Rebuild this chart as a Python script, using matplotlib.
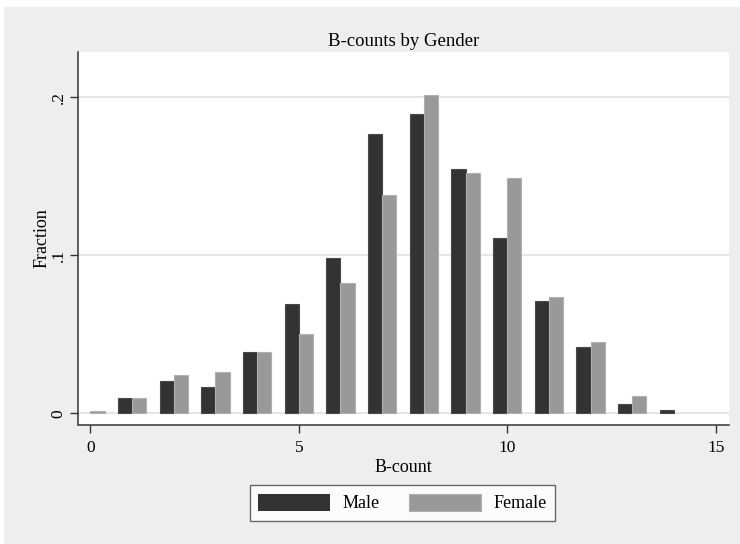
import numpy as np
import matplotlib.pyplot as plt
from matplotlib.patches import Rectangle

# fraction of students at each B-count, split by gender
b_count = np.arange(0, 15)
male = [0.0, 0.0096, 0.0206, 0.0170, 0.0387, 0.0693, 0.0982, 0.1767,
        0.1896, 0.1546, 0.1109, 0.0712, 0.0423, 0.0058, 0.0022]
female = [0.0016, 0.0096, 0.0244, 0.0261, 0.0387, 0.0503, 0.0824, 0.1383,
          0.2018, 0.1520, 0.1490, 0.0739, 0.0451, 0.0113, 0.0]

plt.rcParams["font.family"] = ["Liberation Serif", "DejaVu Serif"]

fig = plt.figure(figsize=(7.4, 5.44), dpi=100, facecolor="white")
# light grey graph region, with a thin white margin on top and left
fig.patches.append(Rectangle((4 / 740, 0), 1, 1 - 7 / 544,
                             transform=fig.transFigure,
                             facecolor="#eeeeee", edgecolor="none", zorder=-10))

ax = fig.add_axes([78.3 / 740, 1 - 424.5 / 544,
                   (729 - 78.3) / 740, (424.5 - 52) / 544])
ax.set_facecolor("white")


def edge_widths(values):
    # empty bins get no outline, so nothing shows at zero
    return [0.8 if v > 0 else 0 for v in values]


w = 0.34
ax.bar(b_count - w / 2, male, width=w, color="#333333",
       edgecolor="#4a4a4a", linewidth=edge_widths(male), label="Male", zorder=3)
ax.bar(b_count + w / 2, female, width=w, color="#999999",
       edgecolor="#b0b0b0", linewidth=edge_widths(female), label="Female",
       zorder=3)

ax.set_xlim(-0.29, 15.32)
ax.set_ylim(-0.007, 0.2288)

ax.set_xticks([0, 5, 10, 15])
ax.set_yticks([0, 0.1, 0.2])
ax.set_yticklabels(["0", ".1", ".2"], rotation=90, va="center")
ax.tick_params(axis="both", direction="out", length=6, width=1,
               color="#333333", labelsize=12.5, pad=5)
ax.tick_params(axis="y", pad=2.5)
ax.yaxis.grid(True, color="#e6e6e6", linewidth=1.4, zorder=0)
ax.set_axisbelow(True)

for side in ("top", "right"):
    ax.spines[side].set_visible(False)
for side in ("left", "bottom"):
    ax.spines[side].set_color("#333333")
    ax.spines[side].set_linewidth(1.1)

ax.set_title("B-counts by Gender", fontsize=13.5, pad=4.5)
ax.set_xlabel("B-count", fontsize=13, labelpad=2)
ax.set_ylabel("Fraction", fontsize=13, labelpad=0)

leg = fig.legend(loc="center", bbox_to_anchor=(0.544, 0.0754), ncol=2,
                 fontsize=13, frameon=True, fancybox=False,
                 handlelength=4.0, handleheight=1.1, handletextpad=0.7,
                 columnspacing=1.6, borderpad=0.45)
leg.get_frame().set_edgecolor("#444444")
leg.get_frame().set_linewidth(1.0)
leg.get_frame().set_facecolor("white")

fig.savefig("out.png", dpi=100, facecolor=fig.get_facecolor())
